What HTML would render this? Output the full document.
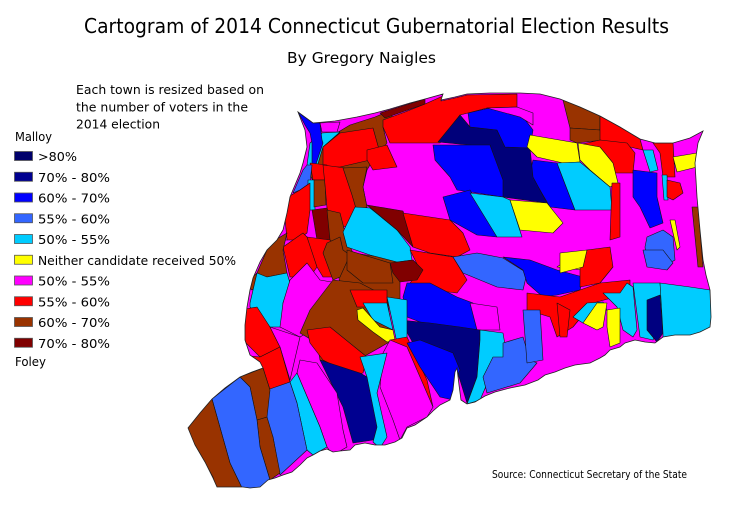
<!DOCTYPE html>
<html><head><meta charset="utf-8">
<style>
html,body{margin:0;padding:0;background:#fff;}
svg{display:block;}
text{font-family:"DejaVu Sans","Liberation Sans",sans-serif;fill:#000;}
</style></head>
<body>
<svg width="748" height="528" viewBox="0 0 748 528" xmlns="http://www.w3.org/2000/svg">
<rect width="748" height="528" fill="#fff"/>
<text x="84" y="33" font-size="20.5" textLength="585" lengthAdjust="spacingAndGlyphs">Cartogram of 2014 Connecticut Gubernatorial Election Results</text>
<text x="287" y="63" font-size="15.5" textLength="149" lengthAdjust="spacingAndGlyphs">By Gregory Naigles</text>
<text x="76" y="94" font-size="12.5" textLength="188" lengthAdjust="spacingAndGlyphs">Each town is resized based on</text>
<text x="76" y="111.5" font-size="12.5" textLength="172" lengthAdjust="spacingAndGlyphs">the number of voters in the</text>
<text x="76" y="128.5" font-size="12.5" textLength="84" lengthAdjust="spacingAndGlyphs">2014 election</text>
<text x="15" y="141" font-size="12.5" textLength="37" lengthAdjust="spacingAndGlyphs">Malloy</text>
<g stroke="#555" stroke-width="0.8">
<rect x="14.5" y="151.5" width="18" height="9" fill="#00006b"/>
<rect x="14.5" y="172.25" width="18" height="9" fill="#000090"/>
<rect x="14.5" y="193" width="18" height="9" fill="#0000ff"/>
<rect x="14.5" y="213.75" width="18" height="9" fill="#3366ff"/>
<rect x="14.5" y="234.5" width="18" height="9" fill="#00ccff"/>
<rect x="14.5" y="255.25" width="18" height="9" fill="#ffff00"/>
<rect x="14.5" y="276" width="18" height="9" fill="#ff00ff"/>
<rect x="14.5" y="296.75" width="18" height="9" fill="#ff0000"/>
<rect x="14.5" y="317.5" width="18" height="9" fill="#993300"/>
<rect x="14.5" y="338.25" width="18" height="9" fill="#800000"/>
</g>
<g font-size="12.5">
<text x="38" y="161" textLength="39" lengthAdjust="spacingAndGlyphs">&gt;80%</text>
<text x="38" y="181.75" textLength="72" lengthAdjust="spacingAndGlyphs">70% - 80%</text>
<text x="38" y="202.5" textLength="72" lengthAdjust="spacingAndGlyphs">60% - 70%</text>
<text x="38" y="223.25" textLength="72" lengthAdjust="spacingAndGlyphs">55% - 60%</text>
<text x="38" y="244" textLength="72" lengthAdjust="spacingAndGlyphs">50% - 55%</text>
<text x="38" y="264.75" textLength="198" lengthAdjust="spacingAndGlyphs">Neither candidate received 50%</text>
<text x="38" y="285.5" textLength="72" lengthAdjust="spacingAndGlyphs">50% - 55%</text>
<text x="38" y="306.25" textLength="72" lengthAdjust="spacingAndGlyphs">55% - 60%</text>
<text x="38" y="327" textLength="72" lengthAdjust="spacingAndGlyphs">60% - 70%</text>
<text x="38" y="347.75" textLength="72" lengthAdjust="spacingAndGlyphs">70% - 80%</text>
</g>
<text x="15" y="366" font-size="12.5" textLength="31" lengthAdjust="spacingAndGlyphs">Foley</text>
<text x="492" y="478" font-size="11" textLength="195" lengthAdjust="spacingAndGlyphs">Source: Connecticut Secretary of the State</text>

<defs>
<clipPath id="ct">
<path id="outl" d="M298,112 L313,123 L335,121 L357,117 L375,113 L390,109 L410,103 L425,99 L443,94 L441,100 L455,97 L467,94 L490,93 L520,93 L540,94 L560,99 L580,107 L600,116 L620,127 L640,139 L655,143 L673,143 L690,138 L703,131 L698,143 L695,163 L697,197 L700,230 L703,260 L706,275 L710,290 L711,317 L710,327 L700,332 L690,335 L675,335 L663,337 L655,343 L645,342 L635,340 L625,343 L620,347 L610,350 L605,355 L600,358 L590,363 L575,365 L565,368 L555,372 L545,375 L538,380 L525,385 L510,388 L495,392 L485,396 L475,402 L467,404 L461,400 L459,385 L457,368 L455,372 L453,390 L450,400 L440,405 L433,411 L427,417 L415,425 L407,428 L402,438 L395,442 L385,445 L375,445 L365,443 L355,445 L350,450 L340,451 L333,452 L327,449 L320,451 L313,455 L307,458 L300,465 L292,472 L283,475 L275,478 L268,480 L260,487 L250,488 L243,487 L230,487 L217,487 L213,478 L205,462 L195,445 L188,428 L200,413 L212,399 L225,388 L240,377 L252,372 L263,368 L260,362 L250,355 L245,340 L245,325 L247,307 L250,290 L253,278 L260,262 L267,250 L277,240 L283,230 L287,213 L290,197 L295,185 L300,173 L303,163 L307,147 L305,130 Z"/>
</clipPath>
</defs>

<g clip-path="url(#ct)" stroke="#111" stroke-width="0.6" stroke-linejoin="round">
<rect x="180" y="85" width="540" height="410" fill="#ff00ff" stroke="none"/>
<!-- NW -->
<polygon fill="#993300" points="313,165 318,150 330,137 350,125 375,117 392,110 392,118 383,127 387,143 370,165 367,170 363,187 367,207 357,212 345,185 343,172 327,165 322,185 315,185 310,175"/>
<polygon fill="#00ccff" points="322,133 340,132 323,147 317,167 307,165 310,143"/>
<polygon fill="#0000ff" points="298,112 313,123 320,123 322,140 323,143 315,167 312,163 312,143 310,133 305,125"/>
<polygon fill="#ff00ff" points="320,123 340,122 337,132 322,132"/>
<polygon fill="#ff0000" points="323,147 340,133 373,128 380,153 370,160 340,167 323,167"/>
<polygon fill="#ff0000" points="310,163 327,165 325,180 313,180"/>
<polygon fill="#3366ff" points="293,193 303,170 307,165 312,165 310,183 300,190"/>
<polygon fill="#00ccff" points="308,180 315,180 315,210 308,210"/>
<polygon fill="#ff0000" points="283,200 300,190 310,183 310,210 307,233 297,240 287,240"/>
<polygon fill="#ff00ff" points="273,227 283,197 287,240 277,240"/>
<polygon fill="#993300" points="314,180 325,180 326,205 314,207"/>
<polygon fill="#ff0000" points="323,165 345,168 352,185 357,205 357,223 332,230 327,208 325,185"/>
<polygon fill="#800000" points="312,210 327,208 334,238 327,243 317,240"/>
<polygon fill="#993300" points="343,168 367,167 363,187 367,207 357,212 352,195"/>
<polygon fill="#ff0000" points="367,150 387,145 397,167 373,170 367,160"/>
<polygon fill="#ff0000" points="383,120 405,112 425,104 443,96 441,101 455,98 467,95 517,94 517,107 487,108 468,113 460,115 440,143 390,143 383,127"/>
<polygon fill="#800000" points="380,113 425,99 425,104 385,118"/>
<!-- center north -->
<polygon fill="#0000ff" points="533,160 557,163 575,210 550,207 530,173"/>
<polygon fill="#00007a" points="438,142 460,115 470,127 497,130 505,147 530,148 533,177 547,203 503,197 490,147"/>
<polygon fill="#0000ff" points="468,113 490,108 520,113 533,130 530,148 505,147 497,130 470,127"/>
<polygon fill="#ff00ff" points="487,108 517,107 533,113 533,125 520,117"/>
<polygon fill="#0000ff" points="433,145 490,145 503,180 503,197 477,193 457,190 450,177 435,160"/>
<polygon fill="#0000ff" points="443,197 470,190 497,237 477,235 450,220"/>
<polygon fill="#00ccff" points="470,193 503,197 510,200 522,237 497,237"/>
<polygon fill="#993300" points="563,100 580,107 600,116 600,130 570,128"/>
<polygon fill="#993300" points="570,128 600,130 603,140 577,143 570,140"/>
<polygon fill="#ff0000" points="600,116 620,127 640,139 643,150 600,140"/>
<polygon fill="#ff0000" points="600,140 627,143 635,153 633,173 613,173 607,160 578,145"/>
<polygon fill="#ffff00" points="578,143 600,147 613,163 618,183 610,187 590,170 580,160"/>
<polygon fill="#ffff00" points="530,135 577,143 580,162 563,163 537,157 527,147"/>
<polygon fill="#00ccff" points="557,163 580,162 610,187 612,210 575,210"/>
<polygon fill="#ffff00" points="510,200 547,203 563,223 553,233 520,230"/>
<polygon fill="#ff0000" points="612,183 620,183 620,237 610,240"/>
<polygon fill="#0000ff" points="633,170 657,173 657,197 663,223 650,228 640,207 633,197"/>
<polygon fill="#00ccff" points="643,150 653,150 658,170 650,172"/>
<polygon fill="#ff0000" points="653,143 673,143 675,177 663,177 660,153"/>
<polygon fill="#00ccff" points="662,175 667,175 668,200 664,200"/>
<polygon fill="#ff0000" points="667,180 680,183 683,193 673,200 667,197"/>
<polygon fill="#ffff00" points="673,157 697,153 697,167 677,172"/>
<polygon fill="#993300" points="692,207 698,207 703,267 698,267"/>
<polygon fill="#3366ff" points="647,237 663,230 673,237 675,260 663,267 647,263 645,247"/>
<polygon fill="#ffff00" points="670,220 675,220 680,247 677,250"/>
<!-- center -->
<polygon fill="#993300" points="327,210 340,213 347,240 353,253 380,257 400,263 400,300 340,287 337,260 330,240"/>
<polygon fill="#00ccff" points="343,232 355,207 370,208 397,230 410,247 412,260 397,262 370,255 347,247"/>
<polygon fill="#800000" points="367,205 403,211 413,247 397,230"/>
<polygon fill="#ff0000" points="403,213 450,220 463,233 470,250 457,257 430,253 413,247"/>
<polygon fill="#ff0000" points="410,250 453,257 467,280 457,293 407,287 420,270"/>
<polygon fill="#800000" points="390,263 413,260 423,270 417,280 400,282 393,273"/>
<polygon fill="#3366ff" points="453,257 477,253 503,258 527,273 523,290 497,287 463,273"/>
<polygon fill="#0000ff" points="503,257 530,260 557,270 583,277 580,290 557,295 543,297 527,283 523,270"/>
<polygon fill="#ffff00" points="557,267 577,253 587,253 583,270"/>
<polygon fill="#ff0000" points="587,250 610,247 613,267 600,283 580,287 580,263"/>
<polygon fill="#ffff00" points="560,253 587,250 583,267 560,273"/>
<polygon fill="#ff0000" points="527,293 560,297 600,283 630,280 630,293 593,303 573,327 557,337 550,317 527,310"/>
<polygon fill="#0000ff" points="407,283 430,283 457,297 473,303 477,330 457,337 433,327 407,317 403,297"/>
<polygon fill="#ff00ff" points="470,303 497,307 500,330 477,330"/>
<polygon fill="#000080" points="400,320 430,323 460,327 480,330 480,340 477,377 467,403 460,380 453,360 413,343"/>
<polygon fill="#00ccff" points="480,330 503,333 507,357 490,377 480,400 467,404 477,377 480,340"/>
<polygon fill="#3366ff" points="503,343 523,337 530,360 537,363 520,383 487,393 483,377 493,357 503,357"/>
<polygon fill="#3366ff" points="523,310 540,310 543,360 527,363"/>
<polygon fill="#ff0000" points="557,303 570,310 567,337 560,337"/>
<polygon fill="#00ccff" points="573,317 587,303 603,302 607,310 590,313 583,323"/>
<polygon fill="#ffff00" points="583,323 597,303 607,303 603,327 597,330"/>
<polygon fill="#00ccff" points="603,293 620,293 627,283 633,287 637,330 633,337 623,330 617,307"/>
<polygon fill="#ffff00" points="607,310 620,308 620,343 610,347 607,327"/>
<polygon fill="#00ccff" points="633,283 660,283 663,317 653,340 640,337"/>
<polygon fill="#000080" points="647,300 660,295 663,333 657,342 647,330"/>
<polygon fill="#00ccff" points="660,283 690,287 710,290 712,317 712,340 693,340 663,340 663,333"/>
<polygon fill="#3366ff" points="643,250 663,250 673,263 667,270 647,267"/>
<!-- west / south -->
<polygon fill="#ff0000" points="283,247 303,233 310,240 317,267 310,277 290,277"/>
<polygon fill="#ff0000" points="307,237 330,240 337,247 340,277 323,277 317,267"/>
<polygon fill="#993300" points="327,243 340,237 343,250 350,255 340,277 333,280 323,253"/>
<polygon fill="#993300" points="347,250 390,263 393,283 363,283 347,270"/>
<polygon fill="#993300" points="245,285 257,273 270,243 287,233 283,250 287,273 267,277 252,290"/>
<polygon fill="#00ccff" points="250,303 257,273 267,277 287,273 290,283 283,303 282,327 270,327 250,307"/>
<polygon fill="#ff00ff" points="290,280 307,263 320,280 337,283 317,327 300,337 280,327 283,303"/>
<polygon fill="#ff0000" points="240,310 257,307 270,327 280,347 260,357 240,337"/>
<polygon fill="#ff00ff" points="270,327 300,337 290,380 280,347"/>
<polygon fill="#993300" points="300,333 310,310 333,280 360,283 387,297 393,340 363,357 360,370 320,360 317,343"/>
<polygon fill="#ff0000" points="307,330 330,327 367,357 363,373 353,375 323,360 310,343"/>
<polygon fill="#ff0000" points="350,290 387,290 387,307 357,307"/>
<polygon fill="#00ccff" points="363,303 387,303 393,330 373,320"/>
<polygon fill="#ffff00" points="357,310 363,308 380,327 393,330 395,340 387,342 373,332 358,320"/>
<polygon fill="#00ccff" points="387,297 407,300 407,337 397,343"/>
<polygon fill="#ff0000" points="390,340 407,337 427,380 433,407 420,390"/>
<polygon fill="#ff00ff" points="383,353 390,340 407,347 433,407 427,417 407,427 400,440 393,420 380,387"/>
<polygon fill="#0000ff" points="407,343 420,340 453,353 460,370 455,380 453,400 440,397 420,367"/>
<polygon fill="#ff0000" points="240,355 260,357 280,347 290,382 270,390 263,368"/>
<polygon fill="#000090" points="320,360 360,373 367,377 380,430 373,440 360,442 353,443 343,407"/>
<polygon fill="#00ccff" points="360,357 387,353 377,393 387,437 380,448 373,442 377,427 367,377"/>
<polygon fill="#ff00ff" points="297,373 300,360 317,363 337,393 343,430 347,447 333,455 327,447 320,427"/>
<polygon fill="#00ccff" points="290,382 297,373 320,427 327,447 313,455 307,450 297,403"/>
<polygon fill="#3366ff" points="267,390 290,382 297,403 307,450 280,475 273,437 265,420"/>
<polygon fill="#993300" points="257,420 267,417 273,437 280,473 270,480 260,447"/>
<polygon fill="#993300" points="240,377 263,368 270,390 267,417 257,420 250,387"/>
<polygon fill="#3366ff" points="212,399 240,377 250,387 257,420 260,447 270,480 260,490 243,490 230,463"/>
<polygon fill="#993300" points="185,427 212,399 230,463 243,490 217,490 213,477"/>
</g>
<use href="#outl" fill="none" stroke="#222" stroke-width="0.8"/>
</svg>
</body></html>
